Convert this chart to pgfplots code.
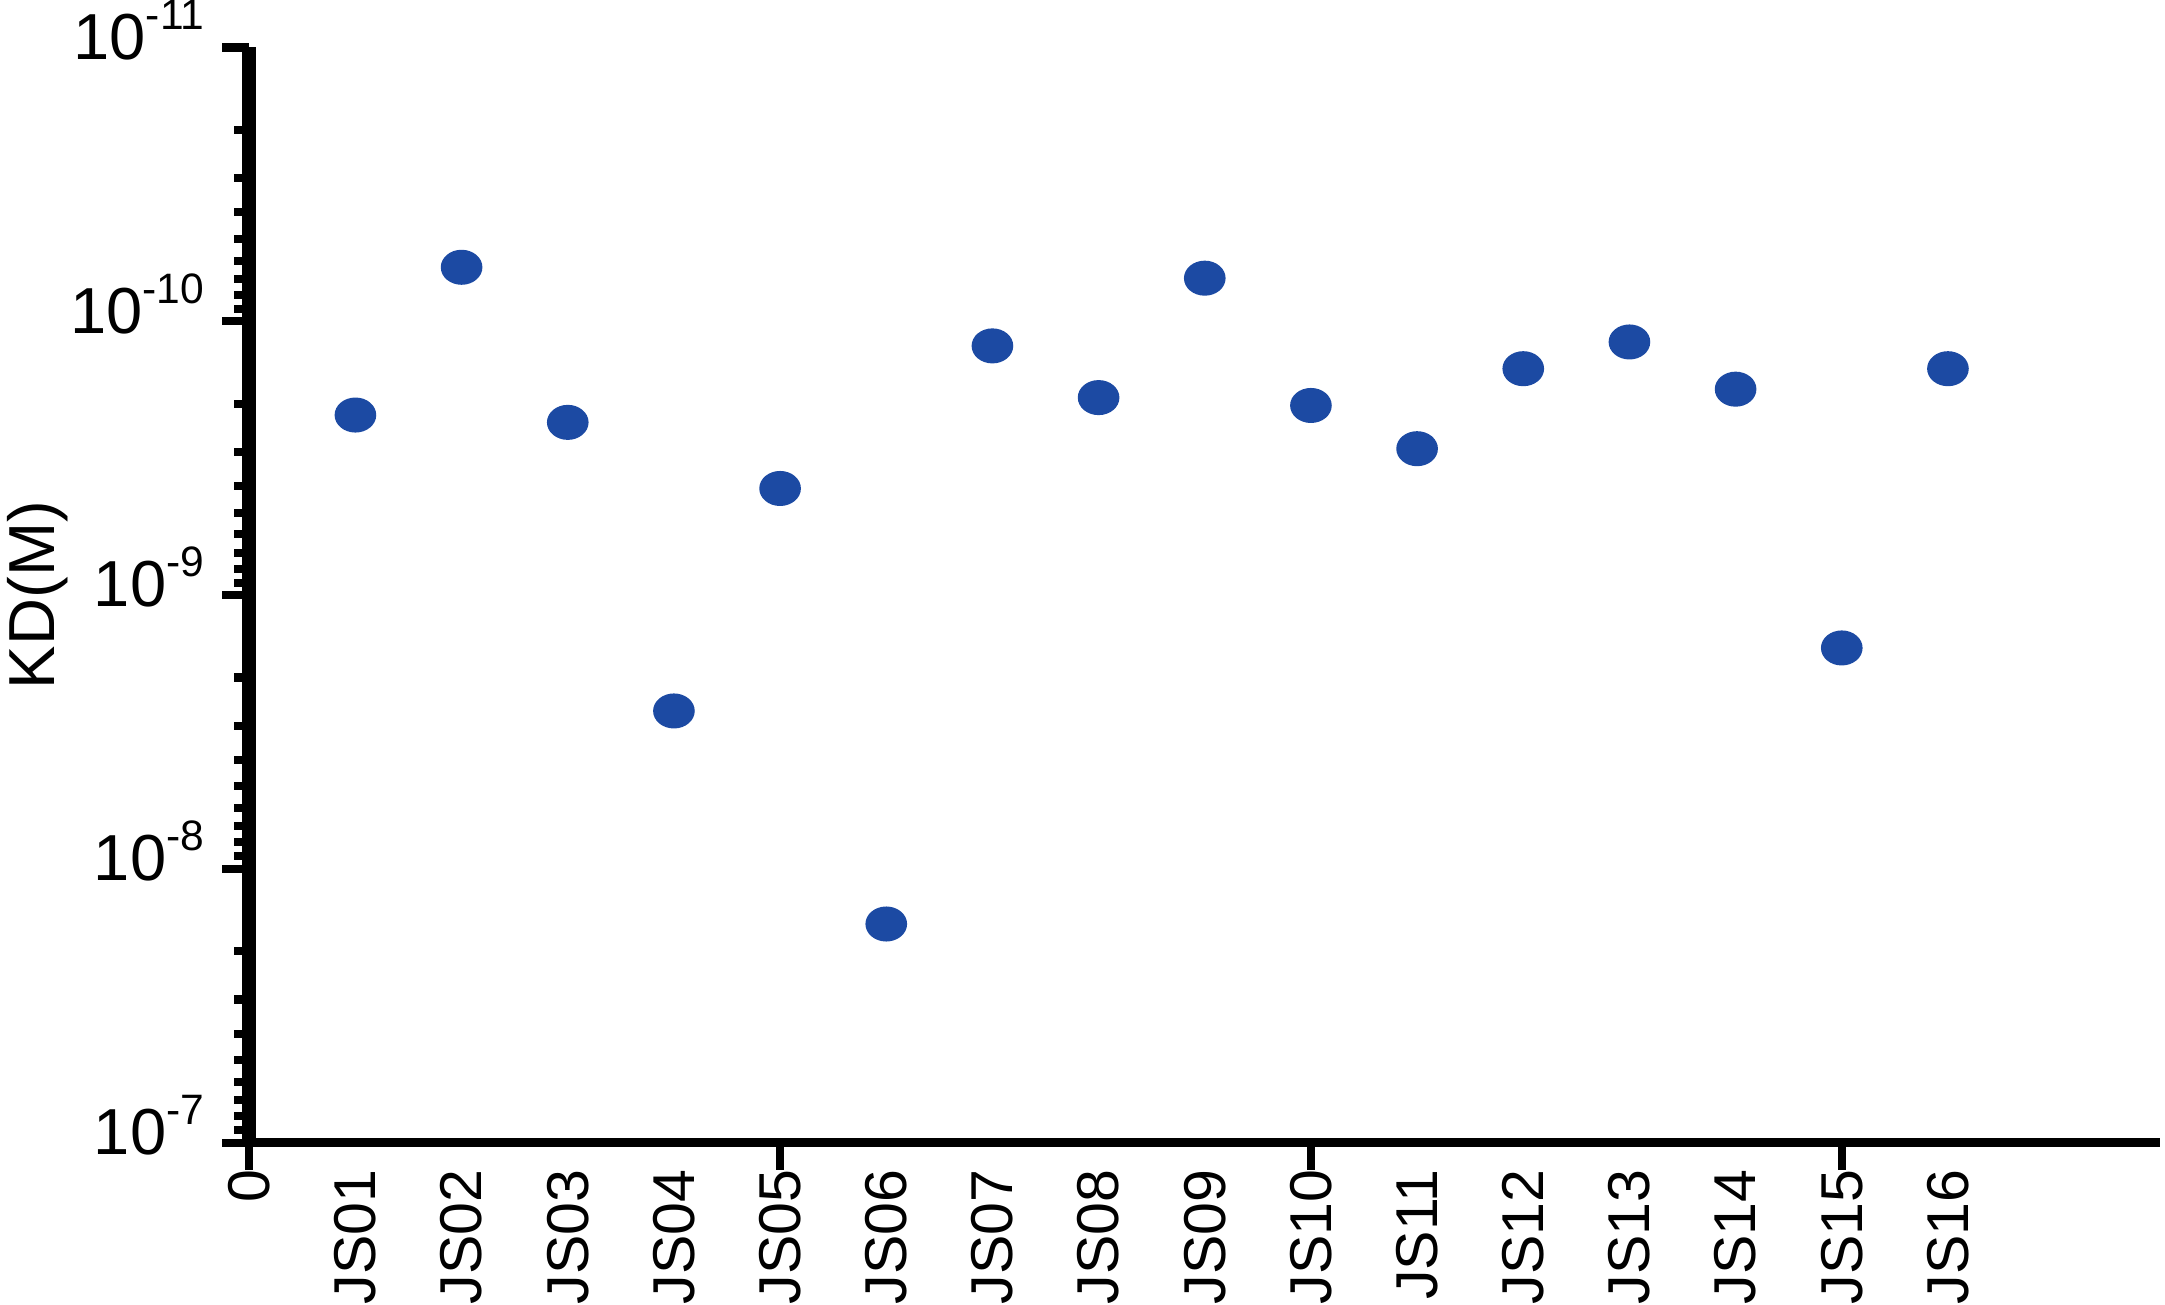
\documentclass[border=0pt]{standalone}
\usepackage{fontspec}
\setmainfont{Liberation Sans}
\usepackage{pgfplots}
\pgfplotsset{compat=1.18}
\definecolor{dotblue}{RGB}{28,74,163}
% power of ten label with a raised exponent
\newcommand{\tenpow}[1]{10\raisebox{6pt}{\fontsize{8.5}{10}\selectfont #1}}

\begin{document}
\begin{tikzpicture}
\begin{axis}[
    scale only axis,
    width=381.8pt,
    height=218.8pt,
    ymode=log,
    y dir=reverse,
    ymin=1e-11, ymax=1e-7,
    xmin=0, xmax=18,
    axis x line*=bottom,
    axis y line*=left,
    x axis line style={-, line width=1.9pt},
    y axis line style={-, line width=2.8pt},
    tick align=outside,
    major tick length=5.4pt,
    minor tick length=3pt,
    every tick/.style={black, line width=1.6pt},
    ytick={1e-11,1e-10,1e-9,1e-8,1e-7},
    yticklabels={\tenpow{-11},\tenpow{-10},\tenpow{-9},\tenpow{-8},\tenpow{-7}},
    yticklabel style={font=\fontsize{13}{16}\selectfont, inner sep=0pt,
        anchor=base east, xshift=-3.4pt, yshift=-2.35pt},
    xtick={0,5,10,15},
    xticklabels={},
    extra x ticks={0,1,2,3,4,5,6,7,8,9,10,11,12,13,14,15,16},
    extra x tick labels={0,JS01,JS02,JS03,JS04,JS05,JS06,JS07,JS08,JS09,JS10,JS11,JS12,JS13,JS14,JS15,JS16},
    extra x tick style={major tick length=0pt,
        tick label style={yshift=-5.2pt, rotate=90, anchor=east, inner sep=0pt,
            font=\fontsize{11.8}{14}\selectfont}},
    ylabel={KD(M)},
    every axis y label/.style={at={(axis description cs:0,0.5)}, xshift=-50pt,
        rotate=90, anchor=north, inner sep=1.5pt, font=\fontsize{13}{15}\selectfont},
    clip=false,
]
\addplot[only marks, mark=*, mark size=3.3pt,
    mark options={xscale=1.2, fill=dotblue, draw=dotblue}] coordinates {
    (1,2.2e-10)
    (2,6.35e-11)
    (3,2.34e-10)
    (4,2.65e-9)
    (5,4.08e-10)
    (6,1.59e-8)
    (7,1.23e-10)
    (8,1.9e-10)
    (9,6.96e-11)
    (10,2.03e-10)
    (11,2.92e-10)
    (12,1.49e-10)
    (13,1.19e-10)
    (14,1.77e-10)
    (15,1.56e-9)
    (16,1.49e-10)
};
\end{axis}
\end{tikzpicture}
\end{document}
